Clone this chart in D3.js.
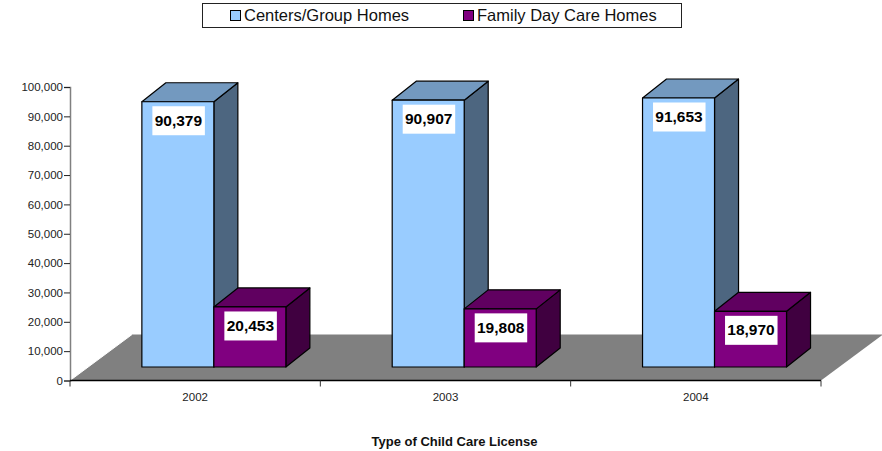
<!DOCTYPE html>
<html><head><meta charset="utf-8">
<script src="https://cdn.jsdelivr.net/npm/d3@7"></script>
<style>html,body{margin:0;padding:0;background:#fff}svg{display:block}text{font-family:"Liberation Sans",Arial,sans-serif}</style>
</head><body><svg id="c" width="882" height="451"></svg>
<script>
const years = ["2002","2003","2004"];
const seriesNames = ["Centers/Group Homes","Family Day Care Homes"];
const centers = [90379,90907,91653];
const family = [20453,19808,18970];
const yTicks = [0,10000,20000,30000,40000,50000,60000,70000,80000,90000,100000];
const axisTitle = "Type of Child Care License";
const frontColors = ["#99ccff","#800080"];
const topColors = ["#7399bf","#600060"];
const sideColors = ["#4d6680","#400040"];

const svg = d3.select("#c");
const fmt = d3.format(",");
const y = d3.scaleLinear().domain([0,100000]).range([380.5,87]);
const x = d3.scaleBand().domain(years).range([70,821]);
const inner = d3.scaleBand().domain([0,1]).range([-72,72]);
const front = {dx:18.7, dy:-13.5};
const depth = {dx:24, dy:-19};
const floor = {dx:62, dy:-46};
const y0 = y(0);

// floor
svg.append("path")
  .attr("d",`M70,${y0}L821,${y0}L${821+floor.dx},${y0+floor.dy}L${70+floor.dx},${y0+floor.dy}Z`)
  .attr("fill","#808080");
svg.append("line").attr("x1",70).attr("y1",y0).attr("x2",70+floor.dx).attr("y2",y0+floor.dy)
  .attr("stroke","#fff").attr("stroke-width",1);

// axes
const gy = svg.append("g").attr("transform","translate(70,0)")
  .call(d3.axisLeft(y).tickValues(yTicks).tickFormat(fmt).tickSize(6).tickPadding(1));
gy.select(".domain").attr("stroke","#808080").attr("stroke-width",1.5);
gy.selectAll("line").attr("stroke","#222");
gy.selectAll("text").attr("font-size",11.5).attr("fill","#222").style("font-family",'"Liberation Sans"');

const xTickPositions = [70].concat(years.map(d=>x(d)+x.bandwidth()));
svg.append("line").attr("x1",70).attr("x2",821).attr("y1",y0).attr("y2",y0).attr("stroke","#000").attr("stroke-width",1.3);
svg.selectAll(".xt").data(xTickPositions).join("line").attr("class","xt")
  .attr("x1",d=>d).attr("x2",d=>d).attr("y1",y0).attr("y2",y0+6).attr("stroke","#333");
svg.selectAll(".xl").data(years).join("text").attr("class","xl")
  .attr("x",d=>x(d)+x.bandwidth()/2).attr("y",401).attr("text-anchor","middle")
  .attr("font-size",11.5).attr("fill","#222").text(d=>d);
svg.append("text").attr("x",454.5).attr("y",445.5).attr("text-anchor","middle")
  .attr("font-size",13).attr("font-weight","bold").attr("fill","#111").text(axisTitle);

// bars
const rows = [centers,family];
const labels = [];
years.forEach((yr,i)=>{
  rows.forEach((vals,s)=>{
    const xl = x(yr)+x.bandwidth()/2+front.dx+inner(s);
    const xr = xl+inner.bandwidth();
    const yb = y0+front.dy;
    const yt = y(vals[i])+front.dy;
    const g = svg.append("g").attr("stroke","#000").attr("stroke-width",1.2).attr("stroke-linejoin","round");
    g.append("path").attr("d",`M${xr},${yb}L${xr+depth.dx},${yb+depth.dy}L${xr+depth.dx},${yt+depth.dy}L${xr},${yt}Z`).attr("fill",sideColors[s]);
    g.append("path").attr("d",`M${xl},${yt}L${xl+depth.dx},${yt+depth.dy}L${xr+depth.dx},${yt+depth.dy}L${xr},${yt}Z`).attr("fill",topColors[s]);
    g.append("rect").attr("x",xl).attr("y",yt).attr("width",xr-xl).attr("height",yb-yt).attr("fill",frontColors[s]);
    labels.push({x:(xl+xr)/2,y:yt,v:vals[i]});
  });
});
const lg = svg.selectAll(".lab").data(labels).join("g").attr("class","lab");
lg.append("rect").attr("x",d=>d.x-25.5).attr("y",d=>d.y+4.5).attr("width",52.5).attr("height",29).attr("fill","#fff");
lg.append("text").attr("x",d=>d.x+0.5).attr("y",d=>d.y+24).attr("text-anchor","middle")
  .attr("font-size",15.5).attr("font-weight","bold").attr("fill","#000").text(d=>fmt(d.v));

// legend
svg.append("rect").attr("x",202.5).attr("y",3.5).attr("width",479).attr("height",24).attr("fill","#fff").attr("stroke","#222").attr("stroke-width",1);
const legX = d3.scaleOrdinal().domain(seriesNames).range([230.5,463.5]);
seriesNames.forEach((n,i)=>{
  svg.append("rect").attr("x",legX(n)).attr("y",10.5).attr("width",10).attr("height",10)
    .attr("fill",frontColors[i]).attr("stroke","#000").attr("stroke-width",1);
  svg.append("text").attr("x",legX(n)+13.5).attr("y",21).attr("font-size",16.5).attr("fill","#111").text(n);
});
</script></body></html>
